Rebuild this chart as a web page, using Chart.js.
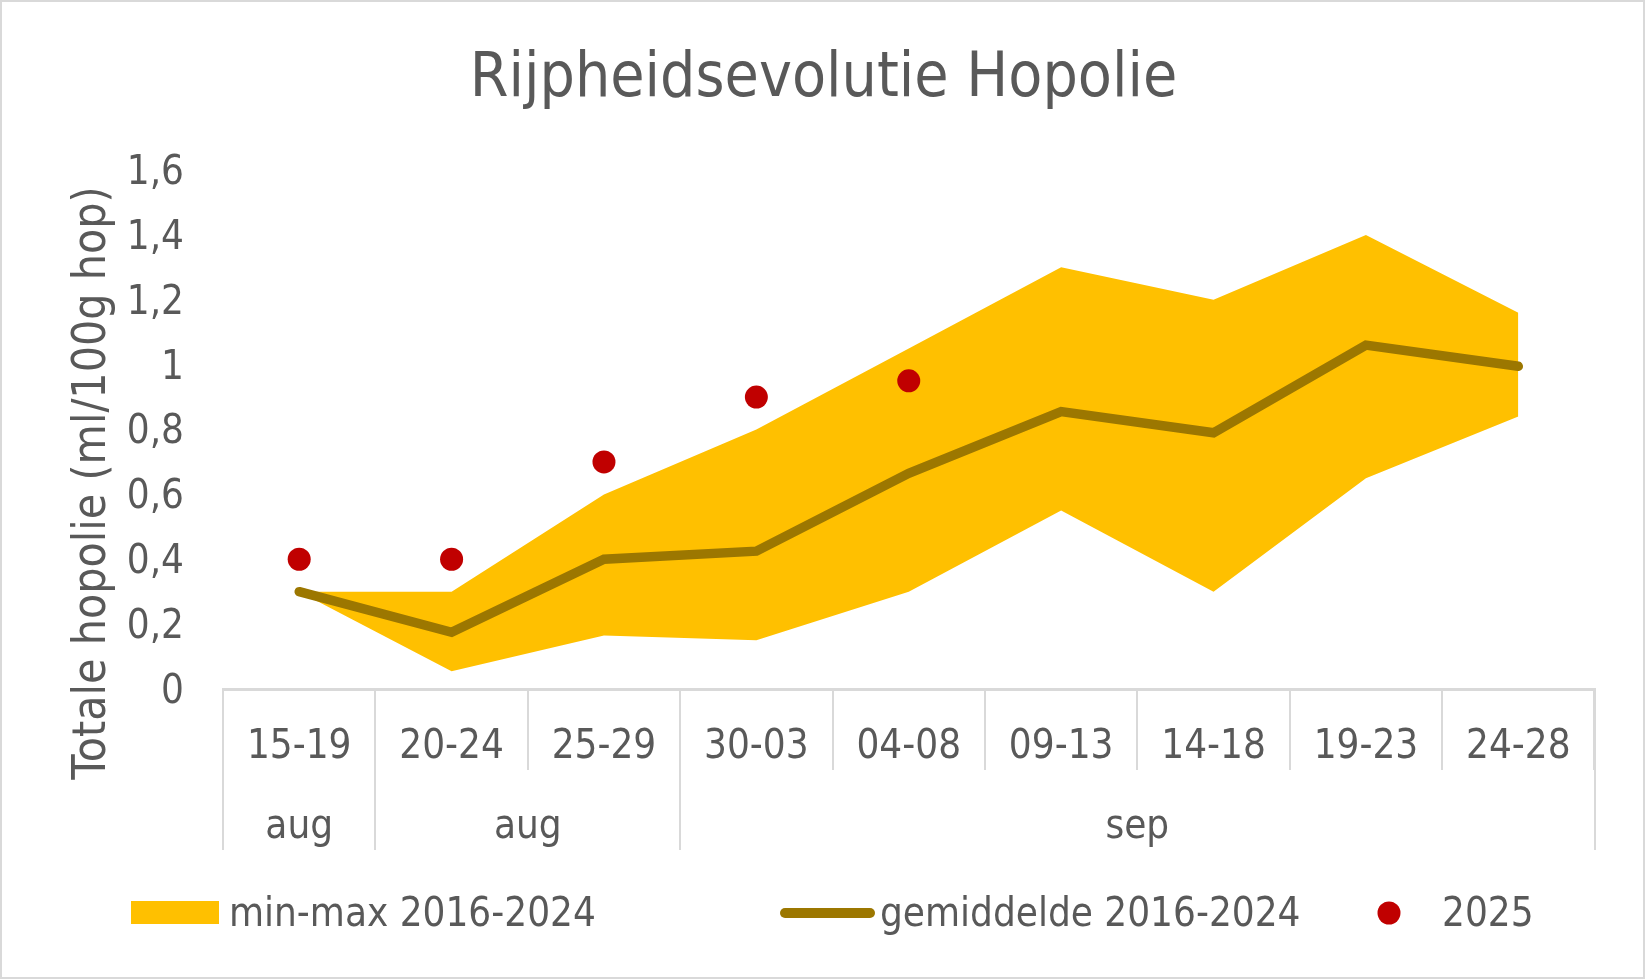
<!DOCTYPE html>
<html><head><meta charset="utf-8">
<script src="https://cdn.jsdelivr.net/npm/chart.js@4.4.1/dist/chart.umd.min.js"></script>
<style>html,body{margin:0;padding:0;background:#fff;overflow:hidden}#wrap{width:1647px;height:980px;position:relative}canvas{display:block}</style>
</head><body><div id="wrap"><canvas id="c" width="1647" height="980"></canvas></div>
<script>
const categories = ['15-19','20-24','25-29','30-03','04-08','09-13','14-18','19-23','24-28'];
const groupLabels = ['aug','aug','sep'];
const groupStart = [0,1,3];
const groupEnd = [0,2,8];
const maxValues = [0.30,0.30,0.60,0.80,1.05,1.30,1.20,1.40,1.16];
const minValues = [0.30,0.055,0.165,0.15,0.30,0.55,0.30,0.65,0.84];
const meanValues = [0.30,0.175,0.40,0.425,0.665,0.855,0.79,1.06,0.995];
const values2025 = [0.40,0.40,0.70,0.90,0.95,null,null,null,null];
const yTickLabels = ['0','0,2','0,4','0,6','0,8','1','1,2','1,4','1,6'];
const titleText = 'Rijpheidsevolutie Hopolie';
const yTitleText = 'Totale hopolie (ml/100g hop)';
const legendLabels = ['min-max 2016-2024','gemiddelde 2016-2024','2025'];

const FONT = '"DejaVu Sans Condensed", "DejaVu Sans", sans-serif';
const TXT = '#595959';
const GRID = '#D9D9D9';
const BAND = '#FFC000';
const MEAN = '#9C7700';
const DOT = '#C00000';

const deco = {
  id: 'deco',
  afterDraw(chart) {
    const ctx = chart.ctx;
    const xs = chart.scales.x;
    const W = chart.width, H = chart.height;
    ctx.save();
    // outer border
    ctx.strokeStyle = GRID; ctx.lineWidth = 2;
    ctx.strokeRect(1, 1, W - 4, H - 3);
    // title
    ctx.fillStyle = TXT;
    ctx.textAlign = 'center'; ctx.textBaseline = 'middle';
    ctx.font = '62px ' + FONT;
    ctx.fillText(titleText, W / 2, 80);
    // y title
    ctx.save();
    ctx.translate(93, 483);
    ctx.rotate(-Math.PI / 2);
    ctx.font = '46px ' + FONT;
    ctx.fillText(yTitleText, 0, 0);
    ctx.restore();
    // group separators and labels
    const half = (xs.getPixelForValue(1) - xs.getPixelForValue(0)) / 2;
    const yA = chart.chartArea.bottom;
    ctx.strokeStyle = GRID; ctx.lineWidth = 2;
    const bounds = new Set();
    groupStart.forEach((s, i) => { bounds.add(s); bounds.add(groupEnd[i] + 1); });
    bounds.forEach(b => {
      const x = Math.round(xs.getPixelForValue(b) - half);
      ctx.beginPath(); ctx.moveTo(x, yA + 2); ctx.lineTo(x, 850); ctx.stroke();
    });
    ctx.font = '40px ' + FONT;
    groupLabels.forEach((g, i) => {
      const x1 = xs.getPixelForValue(groupStart[i]) - half;
      const x2 = xs.getPixelForValue(groupEnd[i]) + half;
      ctx.fillText(g, (x1 + x2) / 2, 828);
    });
    // legend
    const ly = 916;
    ctx.textAlign = 'left';
    ctx.fillStyle = BAND;
    ctx.fillRect(131, 901, 88, 23);
    ctx.strokeStyle = MEAN; ctx.lineWidth = 10; ctx.lineCap = 'round';
    ctx.beginPath(); ctx.moveTo(785, 913); ctx.lineTo(870, 913); ctx.stroke();
    ctx.fillStyle = DOT;
    ctx.beginPath(); ctx.arc(1389, 913, 11.5, 0, Math.PI * 2); ctx.fill();
    ctx.fillStyle = TXT;
    ctx.fillText(legendLabels[0], 229, ly);
    ctx.fillText(legendLabels[1], 880, ly);
    ctx.fillText(legendLabels[2], 1442, ly);
    ctx.restore();
  }
};

new Chart(document.getElementById('c'), {
  type: 'line',
  data: {
    labels: categories,
    datasets: [
      { label: '2025', data: values2025, showLine: false, pointRadius: 11.5, pointHoverRadius: 11.5,
        pointBackgroundColor: DOT, pointBorderWidth: 0, borderColor: DOT, fill: false },
      { label: 'gemiddelde 2016-2024', data: meanValues, borderColor: MEAN, borderWidth: 9.5,
        borderCapStyle: 'round', borderJoinStyle: 'miter', pointRadius: 0, tension: 0, fill: false },
      { label: 'max', data: maxValues, borderWidth: 0, borderColor: 'rgba(0,0,0,0)', pointRadius: 0,
        backgroundColor: BAND, fill: '+1', tension: 0 },
      { label: 'min', data: minValues, borderWidth: 0, borderColor: 'rgba(0,0,0,0)', pointRadius: 0,
        backgroundColor: BAND, fill: false, tension: 0 }
    ]
  },
  options: {
    responsive: false,
    animation: false,
    devicePixelRatio: 1,
    layout: { padding: { left: 0, right: 52.5, top: 170, bottom: 0 } },
    plugins: { legend: { display: false }, title: { display: false }, tooltip: { enabled: false } },
    scales: {
      x: {
        offset: true,
        grid: { display: true, offset: true, drawOnChartArea: false, drawTicks: true, tickLength: 81, color: GRID, lineWidth: 2 },
        border: { display: true, color: GRID, width: 3 },
        ticks: { color: TXT, font: { family: FONT, size: 40 }, padding: -46.5, maxRotation: 0, autoSkip: false },
        afterFit(s) { s.height = 980 - 689; }
      },
      y: {
        min: 0, max: 1.6,
        grid: { display: false, drawTicks: false },
        border: { display: false },
        ticks: { stepSize: 0.2, color: TXT, padding: 39, labelOffset: 3.5, font: { family: FONT, size: 40 },
          callback: (v, i) => yTickLabels[i] },
        afterFit(s) { s.width = 223; }
      }
    }
  },
  plugins: [deco]
});
</script>
</body></html>
